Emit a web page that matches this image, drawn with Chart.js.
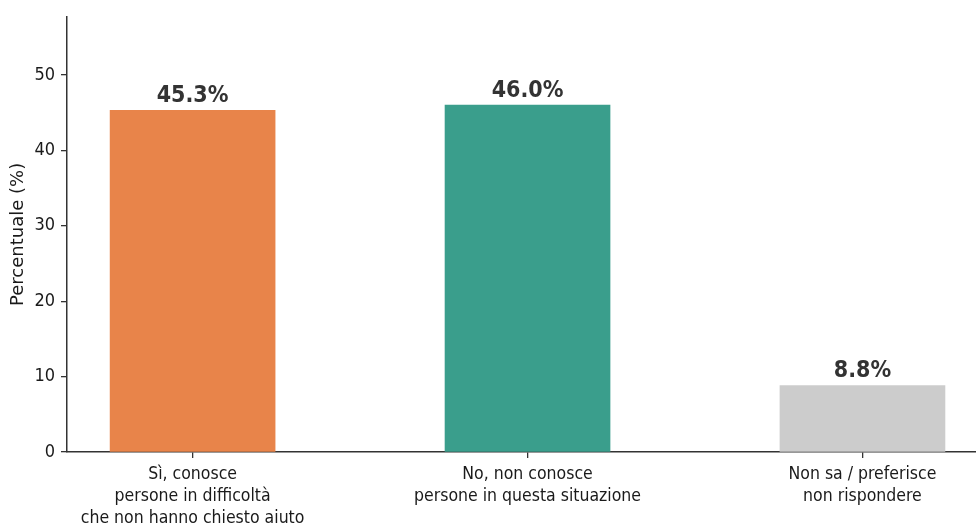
<!DOCTYPE html>
<html>
<head>
<meta charset="utf-8">
<script src="https://cdn.jsdelivr.net/npm/chart.js@4.4.1/dist/chart.umd.min.js"></script>
<style>
html,body{margin:0;padding:0;background:#fff;}
#wrap{width:976px;height:527px;position:relative;}
</style>
</head>
<body>
<div id="wrap"><canvas id="c" width="976" height="527"></canvas></div>
<script>
const categories = [
  ["Sì, conosce", "persone in difficoltà", "che non hanno chiesto aiuto"],
  ["No, non conosce", "persone in questa situazione"],
  ["Non sa / preferisce", "non rispondere"]
];
const values = [45.3, 46.0, 8.8];
const colors = ["#E8844A", "#3A9E8C", "#CCCCCC"];
const yTicks = [0, 10, 20, 30, 40, 50];
const yTitle = "Percentuale (%)";

const FONT = "'DejaVu Sans Condensed', 'DejaVu Sans', sans-serif";

const labelPlugin = {
  id: 'barLabels',
  afterDatasetsDraw(chart) {
    const ctx = chart.ctx;
    const meta = chart.getDatasetMeta(0);
    ctx.save();
    ctx.font = "bold 23px " + FONT;
    ctx.fillStyle = "#333333";
    ctx.textAlign = "center";
    ctx.textBaseline = "bottom";
    meta.data.forEach((bar, i) => {
      ctx.fillText(values[i].toFixed(1) + "%", bar.x, bar.y - 3);
    });
    ctx.restore();
  }
};

new Chart(document.getElementById('c'), {
  type: 'bar',
  data: {
    datasets: [{
      data: values.map((v, i) => ({x: i, y: v})),
      backgroundColor: colors,
      borderWidth: 0,
      barThickness: 165
    }]
  },
  options: {
    responsive: false,
    animation: false,
    layout: {padding: {top: 12, right: 0, left: 0, bottom: 0}},
    plugins: {legend: {display: false}, tooltip: {enabled: false}},
    scales: {
      x: {
        type: 'linear',
        min: -0.375,
        max: 2.339,
        offset: false,
        afterBuildTicks(scale) { scale.ticks = categories.map((c, i) => ({value: i})); },
        ticks: {
          callback: (v) => categories[v],
          font: {family: FONT, size: 17.5, lineHeight: 1.25},
          color: '#1a1a1a',
          padding: 6,
          maxRotation: 0,
          autoSkip: false
        },
        grid: {display: true, offset: false, drawOnChartArea: false, drawTicks: true, tickLength: 6, color: '#333', lineWidth: 1.3},
        border: {display: true, color: '#333', width: 1.5},
        afterFit(scale) { scale.height = 75; }
      },
      y: {
        type: 'linear',
        min: 0,
        max: 57.7,
        afterBuildTicks(scale) { scale.ticks = yTicks.map(v => ({value: v})); },
        ticks: {
          font: {family: FONT, size: 18},
          color: '#1a1a1a',
          padding: 6
        },
        grid: {display: true, drawOnChartArea: false, drawTicks: true, tickLength: 6, color: '#333', lineWidth: 1.3},
        border: {display: true, color: '#333', width: 1.5},
        title: {display: true, text: yTitle, font: {family: "'DejaVu Sans', sans-serif", size: 18}, color: '#1a1a1a', padding: {top: 8, bottom: 4}},
        afterFit(scale) { scale.width = 67; }
      }
    }
  },
  plugins: [labelPlugin]
});
</script>
</body>
</html>
